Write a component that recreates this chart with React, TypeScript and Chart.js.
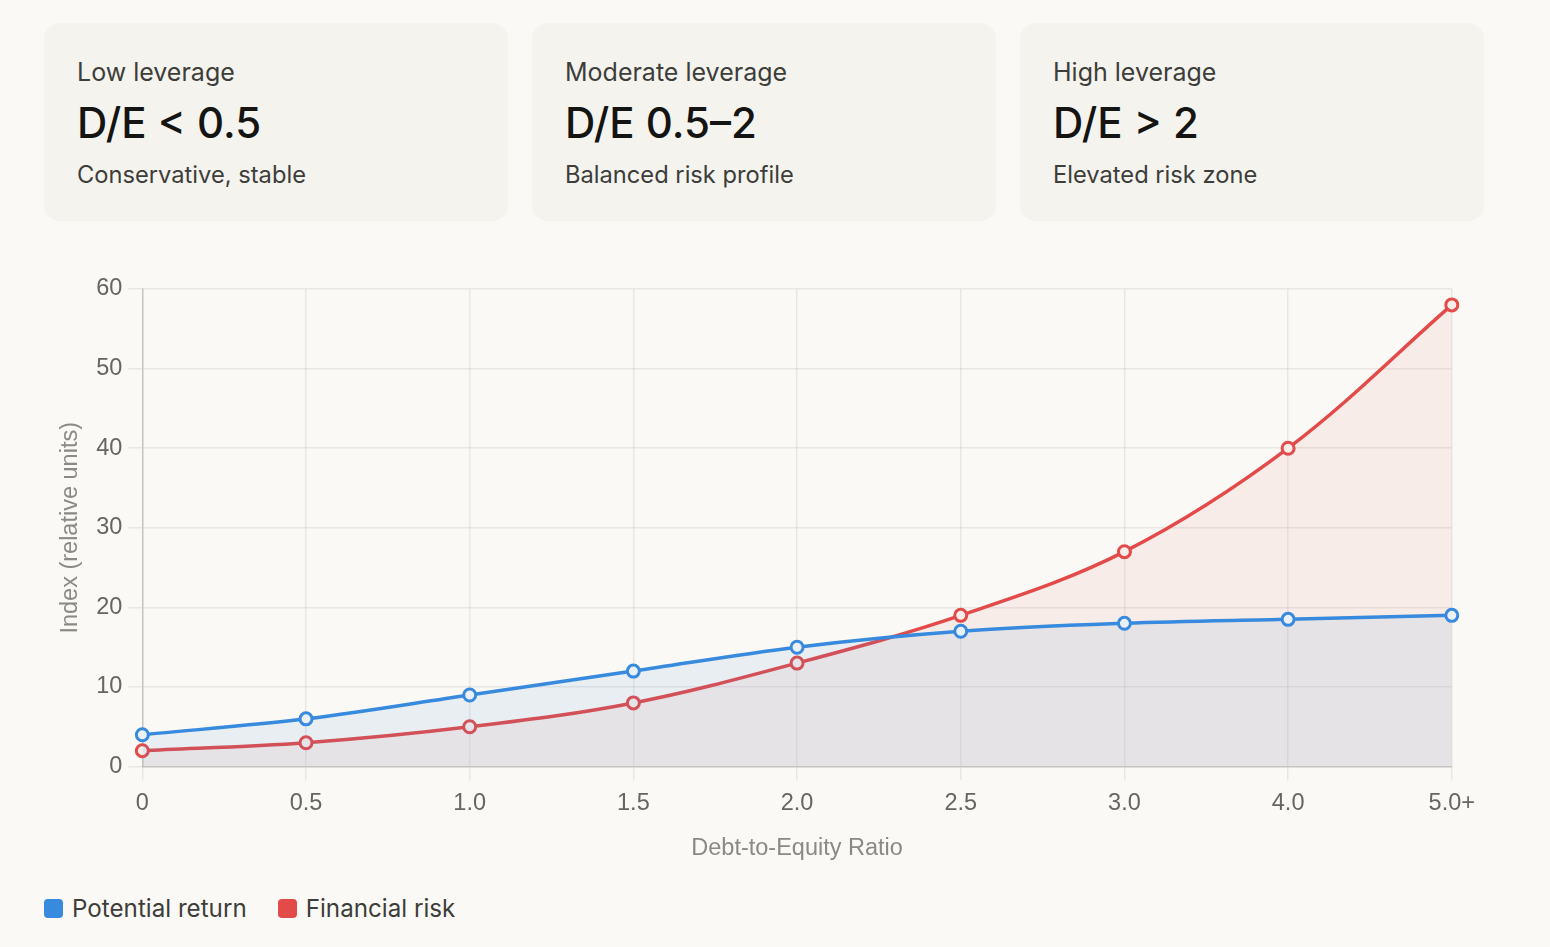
import React, { useEffect, useRef } from "react";
import { Chart, registerables } from "chart.js";

Chart.register(...registerables);

const categories = ["0", "0.5", "1.0", "1.5", "2.0", "2.5", "3.0", "4.0", "5.0+"];
const potentialReturn = [4, 6, 9, 12, 15, 17, 18, 18.5, 19];
const financialRisk = [2, 3, 5, 8, 13, 19, 27, 40, 58];

const cardTitles = ["Low leverage", "Moderate leverage", "High leverage"];
const cardValues = ["D/E < 0.5", "D/E 0.5–2", "D/E > 2"];
const cardNotes = ["Conservative, stable", "Balanced risk profile", "Elevated risk zone"];

const BLUE = "#378ADD";
const RED = "#E24B4A";
const BG = "#faf9f5";
const CARD_BG = "#f4f3ee";
const UI_FONT = "Inter, 'Noto Sans', sans-serif";
const CHART_FONT = "'Liberation Sans', Arial, Helvetica, sans-serif";

export default function App() {
  const canvasRef = useRef<HTMLCanvasElement | null>(null);

  useEffect(() => {
    document.body.style.background = BG;
    const ctx = canvasRef.current;
    if (!ctx) return;
    const chart = new Chart(ctx, {
      type: "line",
      data: {
        labels: categories,
        datasets: [
          {
            label: "Potential return",
            data: potentialReturn,
            borderColor: BLUE,
            backgroundColor: "rgba(55,138,221,0.09)",
            pointBackgroundColor: "rgba(235,240,244,1)",
            pointBorderColor: BLUE,
            pointRadius: 6,
            pointBorderWidth: 3,
            borderWidth: 3.5,
            tension: 0.35,
            fill: "origin",
            clip: false as any,
          },
          {
            label: "Financial risk",
            data: financialRisk,
            borderColor: RED,
            backgroundColor: "rgba(226,75,74,0.075)",
            pointBackgroundColor: "rgba(248,237,233,1)",
            pointBorderColor: RED,
            pointRadius: 6,
            pointBorderWidth: 3,
            borderWidth: 3.5,
            tension: 0.35,
            fill: "origin",
            clip: false as any,
          },
        ],
      },
      options: {
        animation: false,
        responsive: true,
        maintainAspectRatio: false,
        layout: { padding: { left: 8, right: 6, top: 28, bottom: 0 } },
        plugins: {
          legend: { display: false },
          tooltip: { enabled: false },
        },
        scales: {
          x: {
            offset: false,
            grid: {
              color: "rgba(0,0,0,0.07)",
              lineWidth: 1.5,
              tickLength: 14,
            },
            border: { color: "rgba(0,0,0,0.15)", width: 1.5 },
            ticks: {
              color: "#666560",
              padding: 9,
              font: { family: CHART_FONT, size: 23.5 },
              maxRotation: 0,
              autoSkip: false,
            },
            title: {
              display: true,
              text: "Debt-to-Equity Ratio",
              color: "#8a8984",
              font: { family: CHART_FONT, size: 23.5 },
              padding: { top: 8, bottom: 4 },
            },
          },
          y: {
            min: 0,
            max: 60,
            grid: {
              color: "rgba(0,0,0,0.07)",
              lineWidth: 1.5,
              tickLength: 14,
            },
            border: { color: "rgba(0,0,0,0.15)", width: 1.5 },
            ticks: {
              stepSize: 10,
              color: "#666560",
              padding: 6,
              font: { family: CHART_FONT, size: 23.5 },
            },
            title: {
              display: true,
              text: "Index (relative units)",
              color: "#8a8984",
              font: { family: CHART_FONT, size: 23.5 },
              padding: { top: 4, bottom: 6 },
            },
          },
        },
      },
    });
    return () => chart.destroy();
  }, []);

  return (
    <div style={{ paddingLeft: 36, paddingTop: 15, width: 1440, fontFamily: UI_FONT }}>
      <div style={{ display: "flex", gap: 24 }}>
        {cardTitles.map((t, i) => (
          <div
            key={t}
            style={{
              flex: "0 0 464px",
              height: 198,
              boxSizing: "border-box",
              background: CARD_BG,
              borderRadius: 16,
              padding: "32px 33px 0 33px",
            }}
          >
            <div style={{ fontSize: 25, color: "#3d3d3a", lineHeight: "34px" }}>{t}</div>
            <div style={{ fontSize: 42, fontWeight: 500, color: "#141413", lineHeight: "56px", marginTop: 6 }}>
              {cardValues[i]}
            </div>
            <div style={{ fontSize: 23.7, color: "#3d3d3a", lineHeight: "32px", marginTop: 8 }}>{cardNotes[i]}</div>
          </div>
        ))}
      </div>
      <div style={{ position: "relative", height: 606, marginTop: 40 }}>
        <canvas ref={canvasRef} />
      </div>
      <div style={{ display: "flex", alignItems: "center", marginTop: 27, fontSize: 24.2, color: "#3d3d3a" }}>
        <span style={{ display: "inline-block", width: 19, height: 19, borderRadius: 4, background: BLUE, marginRight: 9 }} />
        <span style={{ marginRight: 31 }}>Potential return</span>
        <span style={{ display: "inline-block", width: 19, height: 19, borderRadius: 4, background: RED, marginRight: 9 }} />
        <span>Financial risk</span>
      </div>
    </div>
  );
}
